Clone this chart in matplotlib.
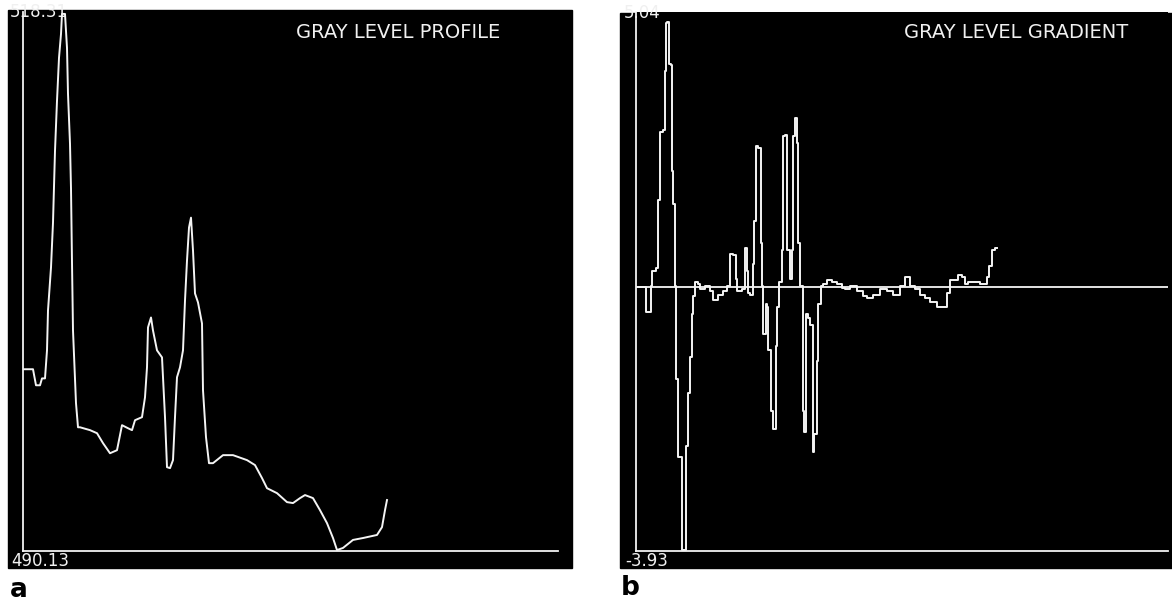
import matplotlib.pyplot as plt
from matplotlib.patches import Rectangle

# panel a: gray level profile (position along the profile, gray value)
prof_x = [0, 10, 13, 17, 19, 22, 24, 25, 28, 30, 32, 34, 36, 38, 39, 42, 44, 45,
          47, 48, 49, 50, 53, 55, 57, 67, 74, 80, 87, 94, 99, 105, 109, 112, 119,
          122, 124, 125, 128, 130, 134, 139, 140, 142, 144, 147, 150, 152, 154,
          157, 160, 162, 164, 166, 168, 170, 172, 175, 179, 180, 183, 186, 190,
          200, 210, 224, 232, 239, 244, 254, 264, 270, 277, 282, 290, 297, 304,
          310, 314, 320, 330, 340, 354, 359, 362, 364]
prof_y = [499.65, 499.65, 498.81, 498.81, 499.17, 499.17, 500.64, 502.73, 504.98,
          507.33, 511.09, 513.71, 515.96, 517.21, 518.26, 518.26, 516.48, 514.07,
          511.46, 509.11, 505.24, 501.68, 497.87, 496.61, 496.61, 496.46, 496.30,
          495.78, 495.25, 495.41, 496.72, 496.56, 496.46, 496.98, 497.14, 498.18,
          499.75, 501.84, 502.36, 501.68, 500.64, 500.27, 499.23, 497.14, 494.52,
          494.47, 494.89, 497.14, 499.23, 499.75, 500.64, 503.25, 505.34, 507.07,
          507.59, 505.87, 503.62, 503.15, 502.05, 498.55, 496.09, 494.73, 494.73,
          495.15, 495.15, 494.89, 494.63, 493.95, 493.42, 493.16, 492.69, 492.64,
          492.90, 493.06, 492.90, 492.27, 491.59, 490.81, 490.18, 490.29, 490.71,
          490.81, 490.97, 491.38, 492.27, 492.80]

# panel b: gray level gradient
grad_x = [0, 9, 10, 13, 15, 16, 19, 20, 22, 24, 27, 29, 30, 31, 33, 35, 36, 37,
          39, 40, 42, 43, 46, 48, 50, 52, 54, 56, 57, 59, 62, 64, 69, 74, 77, 82,
          87, 91, 94, 97, 100, 101, 106, 109, 111, 112, 114, 117, 118, 120, 122,
          125, 126, 127, 128, 130, 131, 132, 135, 137, 140, 141, 143, 146, 147,
          149, 151, 154, 156, 157, 159, 161, 162, 164, 167, 168, 170, 172, 174,
          177, 178, 181, 182, 185, 187, 191, 196, 201, 206, 209, 214, 221, 227,
          231, 237, 244, 251, 257, 264, 269, 274, 279, 284, 289, 294, 301, 307,
          311, 314, 317, 322, 326, 329, 332, 337, 344, 351, 353, 356, 359, 361]
grad_y = [0.00, 0.00, -0.38, -0.38, 0.01, 0.24, 0.24, 0.28, 1.29, 2.31, 2.34,
          3.21, 3.93, 3.94, 3.32, 3.30, 1.73, 1.24, 0.01, -1.37, -2.53, -2.53,
          -3.91, -3.91, -2.37, -1.58, -1.04, -0.40, -0.13, 0.07, 0.04, -0.03,
          0.01, -0.06, -0.19, -0.12, -0.06, 0.01, 0.49, 0.48, 0.12, -0.06,
          -0.03, 0.58, 0.24, -0.09, -0.12, 0.34, 0.98, 2.10, 2.07, 0.65, 0.01,
          -0.70, -0.70, -0.25, -0.30, -0.94, -1.85, -2.11, -0.88, -0.30, 0.07,
          0.55, 2.25, 2.26, 0.55, 0.12, 0.55, 2.25, 2.51, 2.14, 0.65, 0.01,
          -1.85, -2.16, -0.40, -0.46, -0.57, -2.46, -2.19, -1.10, -0.25, 0.01,
          0.04, 0.10, 0.07, 0.04, -0.01, -0.03, 0.01, -0.06, -0.13, -0.16,
          -0.12, -0.03, -0.06, -0.12, 0.01, 0.15, 0.01, -0.03, -0.12, -0.16,
          -0.22, -0.30, -0.30, -0.09, 0.10, 0.10, 0.18, 0.15, 0.04, 0.07, 0.07,
          0.04, 0.15, 0.31, 0.55, 0.58, 0.58]

titles = ["GRAY LEVEL PROFILE", "GRAY LEVEL GRADIENT"]
top_labels = ["518.31", "5.04"]
bottom_labels = ["490.13", "-3.93"]
panel_letters = ["a", "b"]

W, H = 1172, 603
fig = plt.figure(figsize=(W / 100, H / 100), dpi=100, facecolor="white")

# black screen backgrounds (x0, y0, x1, y1 in pixels from top-left)
screens = [(8, 10, 572, 568), (620, 13, 1172, 568)]
# plotting area inside each screen
areas = [(23, 12, 558, 551), (636, 12, 1168, 551)]

for (x0, y0, x1, y1) in screens:
    fig.patches.append(Rectangle((x0 / W, 1 - y1 / H), (x1 - x0) / W, (y1 - y0) / H,
                                 transform=fig.transFigure, color="black", zorder=-5))

axes = []
for (x0, y0, x1, y1) in areas:
    ax = fig.add_axes([x0 / W, 1 - y1 / H, (x1 - x0) / W, (y1 - y0) / H])
    ax.set_zorder(2)
    ax.set_facecolor("black")
    for s in ["top", "right"]:
        ax.spines[s].set_visible(False)
    for s in ["left", "bottom"]:
        ax.spines[s].set_color("#f2f2f2")
        ax.spines[s].set_linewidth(1.3)
    ax.set_xticks([])
    ax.set_yticks([])
    axes.append(ax)

ax1, ax2 = axes
ax1.plot(prof_x, prof_y, color="#f4f4f4", lw=1.4)
ax1.set_xlim(0, 535)
ax1.set_ylim(490.13, 518.31 + 0.05)

ax2.axhline(0, color="#f4f4f4", lw=1.3)
ax2.plot(grad_x, grad_y, color="#f4f4f4", lw=1.4, drawstyle="steps-post")
ax2.set_xlim(0, 532)
ax2.set_ylim(-3.93, 4.09)

txt = dict(color="#f0f0f0", family="DejaVu Sans", zorder=5)
title_pos = [(398, 32), (1016, 32)]
top_pos = [(10, 12), (624, 13)]
bot_pos = [(11, 561), (625, 561)]
letter_pos = [(10, 590), (621, 588)]
for i in range(2):
    fig.text(title_pos[i][0] / W, 1 - title_pos[i][1] / H, titles[i], ha="center",
             va="center", fontsize=14, **txt)
    fig.text(top_pos[i][0] / W, 1 - top_pos[i][1] / H, top_labels[i], ha="left",
             va="center", fontsize=12, **txt)
    fig.text(bot_pos[i][0] / W, 1 - bot_pos[i][1] / H, bottom_labels[i], ha="left",
             va="center", fontsize=12, **txt)
    fig.text(letter_pos[i][0] / W, 1 - letter_pos[i][1] / H, panel_letters[i],
             ha="left", va="center", fontsize=19, fontweight="bold", color="black")

fig.savefig("out.png", dpi=100, facecolor="white")
